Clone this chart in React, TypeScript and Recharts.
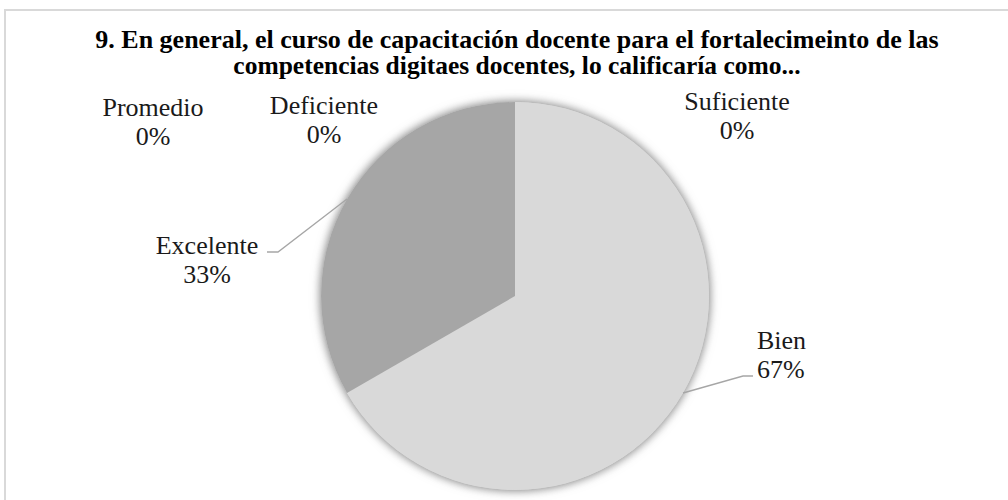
import React from "react";
import { PieChart, Pie, Cell } from "recharts";

const categories = ["Suficiente", "Bien", "Excelente", "Promedio", "Deficiente"];
const values = [0, 2, 1, 0, 0];
const colors = ["#c0c0c0", "#d9d9d9", "#a6a6a6", "#8c8c8c", "#bfbfbf"];
const titleLines = [
  "9. En general, el curso de capacitación docente para el fortalecimeinto de las",
  "competencias digitaes docentes, lo calificaría como...",
];

const data = categories.map((name, i) => ({ name, value: values[i] }));
const total = values.reduce((a, b) => a + b, 0);

// label layout: offsets relative to the slice's anchor point on the rim
const labelLayout: Record<string, any> = {
  Bien: { elbow: [60, -17], tail: 10, anchor: "start", text: [4, -36] },
  Excelente: { elbow: [-69, 53], tail: -11, anchor: "middle", text: [-60, -7] },
  Suficiente: { anchor: "middle", text: [222, -1] },
  Deficiente: { anchor: "middle", text: [-191, 3] },
  Promedio: { anchor: "middle", text: [-362, 5] },
};

const RAD = Math.PI / 180;
const FONT = "'Liberation Serif', 'Times New Roman', serif";

const renderLabel = (props: any) => {
  const { cx, cy, midAngle, outerRadius, name, value } = props;
  const lay = labelLayout[name];
  if (!lay) return null;
  const x0 = cx + outerRadius * Math.cos(-midAngle * RAD);
  const y0 = cy + outerRadius * Math.sin(-midAngle * RAD);
  const pct = Math.round((value / total) * 100) + "%";
  const lineH = 29;
  let line = null;
  let bx = x0;
  let by = y0;
  if (lay.elbow) {
    const x1 = x0 + lay.elbow[0];
    const y1 = y0 + lay.elbow[1];
    const x2 = x1 + lay.tail;
    line = (
      <polyline
        points={`${x0},${y0} ${x1},${y1} ${x2},${y1}`}
        fill="none"
        stroke="#a6a6a6"
        strokeWidth={1.3}
      />
    );
    bx = x2;
    by = y1;
  }
  const tx = bx + lay.text[0];
  const ty = by + lay.text[1];
  return (
    <g key={`lbl-${name}`}>
      {line}
      <text
        x={tx}
        y={ty}
        textAnchor={lay.anchor}
        dominantBaseline="central"
        fontFamily={FONT}
        fontSize={26}
        fill="#1a1a1a"
      >
        <tspan x={tx} y={ty}>{name}</tspan>
        <tspan x={tx} y={ty + lineH}>{pct}</tspan>
      </text>
    </g>
  );
};

export default function App() {
  return (
    <div style={{ position: "absolute", left: 0, top: 0, width: 1008, height: 500, overflow: "hidden", background: "#fff" }}>
      <style>{`.pie-shadow { filter: drop-shadow(0px 0px 5px rgba(0,0,0,0.3)); }`}</style>
      <div
        style={{
          position: "absolute",
          left: 4,
          top: 9,
          width: 1040,
          height: 540,
          border: "2px solid #d9d9d9",
          boxSizing: "border-box",
        }}
      />
      <div
        style={{
          position: "absolute",
          left: 0,
          top: 27,
          width: 1034,
          textAlign: "center",
          fontFamily: FONT,
          fontWeight: "bold",
          fontSize: 26,
          lineHeight: "26px",
          color: "#000",
        }}
      >
        <div style={{ height: 26 }}>{titleLines[0]}</div>
        <div style={{ height: 26, fontSize: 25.5 }}>{titleLines[1]}</div>
      </div>
      <div style={{ position: "absolute", left: 0, top: 0 }}>
        <PieChart width={1008} height={500} margin={{ top: 0, right: 0, bottom: 0, left: 0 }}>
          <Pie
            data={[{ name: "all", value: 1 }]}
            dataKey="value"
            cx={515}
            cy={296}
            outerRadius={194}
            startAngle={90}
            endAngle={-270}
            stroke="none"
            fill="#d9d9d9"
            className="pie-shadow"
            isAnimationActive={false}
          />
          <Pie
            data={data}
            dataKey="value"
            nameKey="name"
            cx={515}
            cy={296}
            outerRadius={194}
            startAngle={90}
            endAngle={-270}
            stroke="none"
            label={renderLabel}
            labelLine={false}
            isAnimationActive={false}
          >
            {data.map((d, i) => (
              <Cell key={d.name} fill={colors[i]} />
            ))}
          </Pie>
        </PieChart>
      </div>
    </div>
  );
}
